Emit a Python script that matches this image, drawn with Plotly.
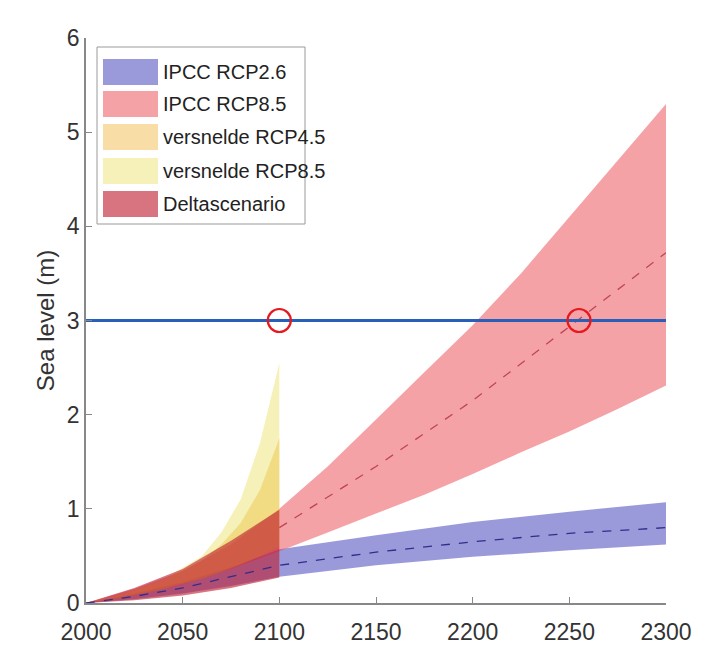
import plotly.graph_objects as go

# ---------------- data ----------------
years_ipcc = [2000, 2025, 2050, 2075, 2100, 2150, 2200, 2250, 2300]
rcp26_upper = [0.0, 0.10, 0.22, 0.38, 0.57, 0.72, 0.86, 0.97, 1.07]
rcp26_lower = [0.0, 0.04, 0.10, 0.18, 0.28, 0.40, 0.49, 0.56, 0.62]
rcp26_median = [0.0, 0.07, 0.16, 0.28, 0.40, 0.54, 0.65, 0.74, 0.80]

years_rcp85 = [2000, 2025, 2050, 2075, 2100, 2125, 2150, 2175, 2200, 2225, 2250, 2275, 2300]
rcp85_upper = [0.0, 0.15, 0.34, 0.62, 1.0, 1.45, 1.95, 2.45, 2.95, 3.5, 4.1, 4.7, 5.3]
rcp85_lower = [0.0, 0.08, 0.20, 0.36, 0.55, 0.75, 0.95, 1.15, 1.37, 1.6, 1.82, 2.06, 2.31]
years_rcp85_med = [2100, 2150, 2200, 2250, 2300]
rcp85_median = [0.80, 1.45, 2.15, 2.93, 3.72]

years_vers = [2000, 2020, 2040, 2060, 2070, 2080, 2090, 2100]
vers45_upper = [0.0, 0.10, 0.24, 0.45, 0.62, 0.85, 1.20, 1.75]
vers45_lower = [0.0, 0.06, 0.15, 0.26, 0.33, 0.41, 0.50, 0.60]
vers85_upper = [0.0, 0.10, 0.25, 0.50, 0.75, 1.10, 1.70, 2.55]
vers85_lower = [0.0, 0.06, 0.15, 0.26, 0.33, 0.41, 0.50, 0.60]

years_delta = [2000, 2025, 2050, 2075, 2100]
delta_upper = [0.0, 0.16, 0.36, 0.66, 0.99]
delta_lower = [0.0, 0.03, 0.08, 0.16, 0.27]

threshold_years = [2000, 2300]
threshold_level = [3, 3]
crossing_years = [2100, 2255]
crossing_level = [3, 3]

series_names = ["IPCC RCP2.6", "IPCC RCP8.5", "versnelde RCP4.5", "versnelde RCP8.5", "Deltascenario"]
series_colors = ["rgba(100,100,200,0.65)", "rgba(235,70,80,0.5)", "rgba(240,180,60,0.45)",
                 "rgba(230,220,80,0.4)", "rgba(190,30,50,0.62)"]

x_ticks = [2000, 2050, 2100, 2150, 2200, 2250, 2300]
y_ticks = [0, 1, 2, 3, 4, 5, 6]

# ---------------- figure ----------------
fig = go.Figure()

bands = [
    (years_ipcc, rcp26_upper, rcp26_lower),
    (years_rcp85, rcp85_upper, rcp85_lower),
    (years_vers, vers45_upper, vers45_lower),
    (years_vers, vers85_upper, vers85_lower),
    (years_delta, delta_upper, delta_lower),
]
for (xs, up, lo), name, col in zip(bands, series_names, series_colors):
    fig.add_trace(go.Scatter(
        x=list(xs) + list(xs)[::-1],
        y=list(up) + list(lo)[::-1],
        fill="toself", fillcolor=col, mode="none", name=name,
        hoverinfo="skip", showlegend=False))

fig.add_trace(go.Scatter(x=years_ipcc, y=rcp26_median, mode="lines",
                         line=dict(color="rgb(50,45,140)", width=1.3, dash="dash"),
                         showlegend=False))
fig.add_trace(go.Scatter(x=years_rcp85_med, y=rcp85_median, mode="lines",
                         line=dict(color="rgb(190,70,85)", width=1.3, dash="dash"),
                         showlegend=False))
fig.add_trace(go.Scatter(x=threshold_years, y=threshold_level, mode="lines",
                         line=dict(color="rgb(40,95,185)", width=3), showlegend=False))
fig.add_trace(go.Scatter(x=crossing_years, y=crossing_level, mode="markers",
                         marker=dict(symbol="circle-open", size=23, color="rgb(230,25,30)",
                                     line=dict(color="rgb(230,25,30)", width=2.2)),
                         showlegend=False))

# ---------------- layout ----------------
W, H = 723, 647
ml, mr, mt, mb = 86, 57, 38, 44
pw, ph = W - ml - mr, H - mt - mb


def px2paper_x(px):
    return (px - ml) / pw


def px2paper_y(py):
    return (H - mb - py) / ph


shapes = []
annotations = []
# legend box
shapes.append(dict(type="rect", xref="paper", yref="paper",
                   x0=px2paper_x(97), x1=px2paper_x(305),
                   y0=px2paper_y(224), y1=px2paper_y(47),
                   line=dict(color="#9a9a9a", width=1), fillcolor="white", layer="above"))
row_y = [72, 104, 137, 171, 204]
for name, col, ry in zip(series_names, series_colors, row_y):
    shapes.append(dict(type="rect", xref="paper", yref="paper",
                       x0=px2paper_x(103), x1=px2paper_x(158),
                       y0=px2paper_y(ry + 13), y1=px2paper_y(ry - 13),
                       line=dict(width=0), fillcolor=col, layer="above"))
    annotations.append(dict(xref="paper", yref="paper", x=px2paper_x(161), y=px2paper_y(ry),
                            text=name, showarrow=False, xanchor="left", yanchor="middle",
                            font=dict(size=20, color="#222", family="Liberation Sans, Arial")))

fig.update_layout(
    width=W, height=H,
    margin=dict(l=ml, r=mr, t=mt, b=mb),
    paper_bgcolor="white", plot_bgcolor="white",
    font=dict(family="Liberation Sans, Arial", color="#333"),
    showlegend=False,
    shapes=shapes, annotations=annotations,
    xaxis=dict(range=[2000, 2300], tickvals=x_ticks, ticks="inside", ticklen=6,
               tickcolor="#888", showline=True, linecolor="#888", linewidth=1.5,
               showgrid=False, zeroline=False, tickfont=dict(size=23, color="#333"),
               ticklabelstandoff=8, automargin=False),
    yaxis=dict(range=[0, 6], tickvals=y_ticks, ticks="inside", ticklen=6,
               tickcolor="#888", showline=True, linecolor="#888", linewidth=1.5,
               showgrid=False, zeroline=False, tickfont=dict(size=23, color="#333"),
               automargin=False,
               title=dict(text="Sea level (m)", font=dict(size=24, color="#333"), standoff=5)),
)

fig.write_html("out.html")
